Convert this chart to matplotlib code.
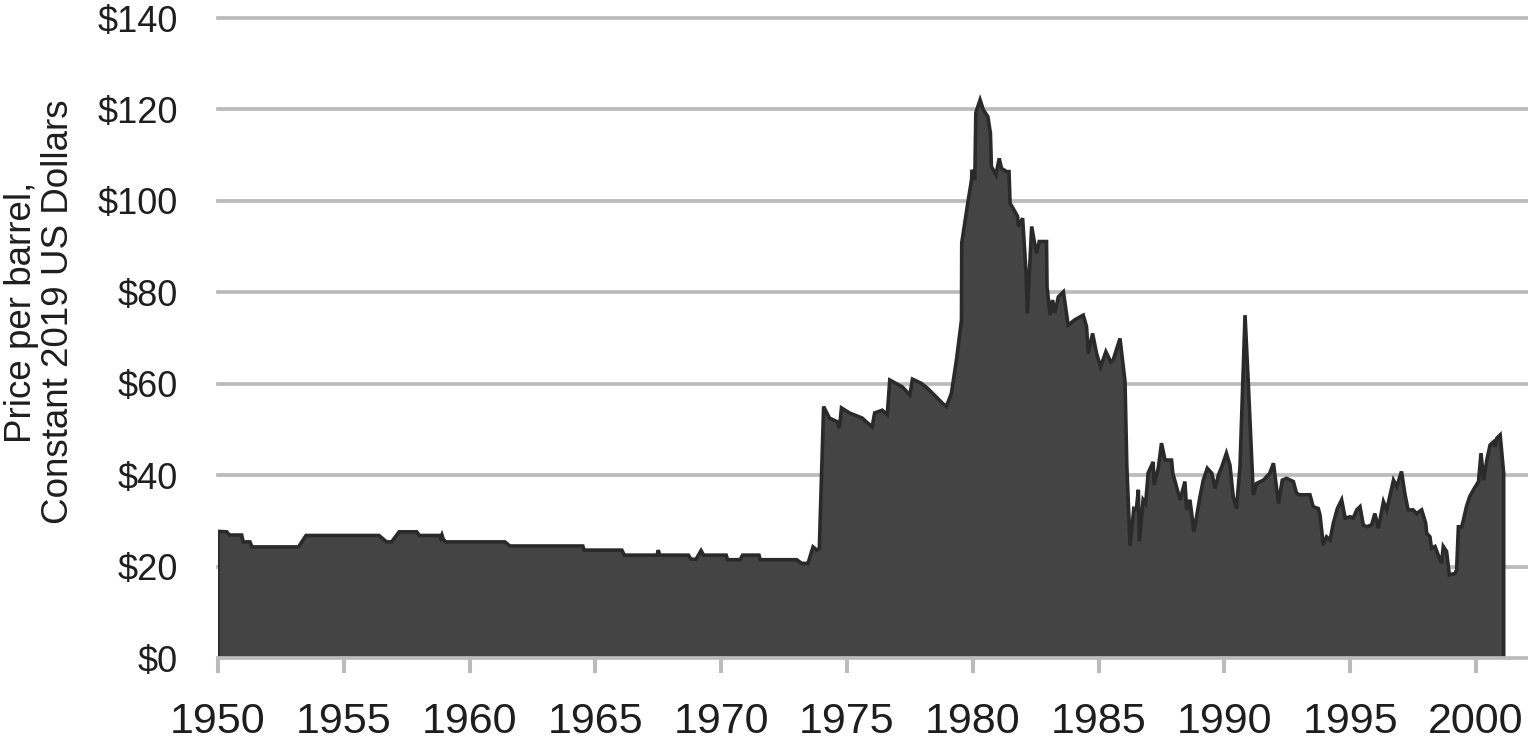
import matplotlib
matplotlib.use("Agg")
import matplotlib.pyplot as plt

plt.rcParams['font.family'] = ['Liberation Sans', 'DejaVu Sans']

years = [
    1950.00, 1950.35, 1950.45, 1950.94, 1951.00, 1951.27, 1951.35, 1953.20, 1953.50,
    1956.40, 1956.70, 1956.90, 1957.20, 1957.90, 1958.00, 1958.80, 1958.85, 1958.90,
    1958.95, 1959.05, 1961.40, 1961.60, 1964.50, 1964.55, 1966.05, 1966.15, 1967.45,
    1967.50, 1967.55, 1968.70, 1968.80, 1969.00, 1969.20, 1969.30, 1970.20, 1970.25,
    1970.75, 1970.85, 1971.50, 1971.55, 1973.00, 1973.20, 1973.45, 1973.65, 1973.80,
    1973.90, 1974.07, 1974.30, 1974.60, 1974.70, 1974.78, 1975.10, 1975.60, 1975.80,
    1976.00, 1976.10, 1976.40, 1976.60, 1976.70, 1977.00, 1977.20, 1977.50, 1977.60,
    1977.95, 1978.20, 1978.40, 1978.60, 1978.80, 1978.95, 1979.15, 1979.35, 1979.55,
    1979.56, 1979.80, 1979.95, 1979.97, 1980.08, 1980.12, 1980.29, 1980.42, 1980.60,
    1980.70, 1980.74, 1980.92, 1981.05, 1981.14, 1981.34, 1981.44, 1981.48, 1981.68,
    1981.78, 1981.81, 1981.98, 1982.11, 1982.17, 1982.34, 1982.53, 1982.64, 1982.93,
    1982.95, 1983.07, 1983.17, 1983.26, 1983.40, 1983.60, 1983.79, 1984.06, 1984.39,
    1984.52, 1984.59, 1984.76, 1984.92, 1985.08, 1985.29, 1985.48, 1985.58, 1985.85,
    1986.05, 1986.12, 1986.25, 1986.40, 1986.50, 1986.58, 1986.62, 1986.77, 1986.87,
    1986.97, 1987.17, 1987.20, 1987.37, 1987.50, 1987.64, 1987.90, 1987.95, 1988.24,
    1988.43, 1988.50, 1988.63, 1988.79, 1989.03, 1989.16, 1989.32, 1989.50, 1989.63,
    1989.76, 1989.90, 1990.08, 1990.22, 1990.35, 1990.48, 1990.62, 1990.82, 1990.95,
    1991.15, 1991.28, 1991.55, 1991.80, 1991.95, 1992.15, 1992.30, 1992.47, 1992.74,
    1992.87, 1993.00, 1993.40, 1993.53, 1993.73, 1993.80, 1993.93, 1994.06, 1994.20,
    1994.33, 1994.49, 1994.66, 1994.80, 1995.00, 1995.12, 1995.26, 1995.39, 1995.52,
    1995.65, 1995.85, 1995.98, 1996.12, 1996.32, 1996.45, 1996.72, 1996.85, 1997.04,
    1997.17, 1997.30, 1997.50, 1997.64, 1997.84, 1998.00, 1998.04, 1998.17, 1998.23,
    1998.37, 1998.50, 1998.63, 1998.70, 1998.83, 1998.94, 1999.17, 1999.23, 1999.30,
    1999.43, 1999.50, 1999.62, 1999.75, 1999.90, 2000.10, 2000.20, 2000.30, 2000.43,
    2000.56, 2000.70, 2000.76, 2000.83, 2000.96, 2001.10,
]
prices = [
    27.7, 27.6, 26.9, 26.9, 25.4, 25.4, 24.3, 24.3, 26.8,
    26.8, 25.4, 25.4, 27.6, 27.6, 26.8, 26.8, 26.2, 26.9,
    26.0, 25.4, 25.4, 24.5, 24.5, 23.6, 23.6, 22.5, 22.5,
    23.6, 22.5, 22.5, 21.6, 21.6, 23.5, 22.5, 22.5, 21.5,
    21.5, 22.5, 22.5, 21.5, 21.5, 20.7, 20.7, 24.3, 23.6,
    24.0, 55.0, 52.5, 51.7, 50.3, 54.7, 53.6, 52.5, 51.5,
    50.6, 53.6, 54.2, 53.2, 60.8, 59.9, 59.3, 57.5, 61.0,
    60.1, 59.0, 57.9, 56.8, 55.7, 55.0, 57.9, 65.2, 73.9,
    90.8, 99.5, 104.6, 106.8, 104.6, 119.3, 122.1, 119.9, 118.4,
    114.8, 107.5, 105.7, 109.3, 107.1, 106.4, 106.4, 99.5, 97.6,
    96.6, 94.4, 96.2, 84.9, 75.4, 94.4, 88.5, 91.1, 91.1,
    81.2, 75.0, 78.3, 75.5, 79.0, 80.1, 72.8, 74.0, 75.0,
    72.5, 66.6, 71.0, 66.6, 63.7, 67.0, 64.8, 65.2, 69.9,
    60.5, 42.3, 24.5, 32.7, 32.5, 36.8, 25.5, 34.6, 33.8,
    40.5, 42.9, 37.8, 41.5, 47.0, 43.3, 43.3, 40.4, 34.6,
    38.6, 32.4, 34.6, 27.6, 35.3, 38.9, 41.5, 40.4, 37.1,
    40.0, 41.9, 44.8, 42.2, 35.3, 32.7, 41.9, 75.0, 60.1,
    35.7, 38.2, 38.9, 40.4, 42.6, 33.8, 38.9, 39.3, 38.6,
    36.0, 35.7, 35.7, 33.1, 32.7, 31.3, 24.7, 26.5, 25.8,
    29.5, 32.7, 34.6, 30.6, 30.9, 30.6, 32.4, 33.1, 29.1,
    28.7, 29.1, 31.6, 28.4, 34.2, 32.4, 38.9, 37.5, 40.8,
    36.0, 32.4, 32.4, 31.6, 32.4, 29.5, 27.3, 26.5, 24.0,
    24.4, 22.5, 20.7, 24.4, 23.3, 18.2, 18.5, 19.3, 28.7,
    28.7, 30.2, 33.1, 35.3, 36.8, 38.6, 44.8, 38.9, 43.3,
    46.6, 47.3, 46.2, 48.1, 48.8, 40.4,
]
x_ticks = [1950, 1955, 1960, 1965, 1970, 1975, 1980, 1985, 1990, 1995, 2000]
y_ticks = [0, 20, 40, 60, 80, 100, 120, 140]
y_tick_labels = ['$' + str(v) for v in y_ticks]
y_label = "Price per barrel,\nConstant 2019 US Dollars"

W, H = 1528, 746
fig = plt.figure(figsize=(W / 100, H / 100), dpi=100)
ax = fig.add_axes([218 / W, 88 / H, (W - 218) / W, (658 - 18) / H])

grid_col = '#bbbbbb'
for v in y_ticks:
    ax.axhline(v, color=grid_col, linewidth=2.7, zorder=1 if v else 4, clip_on=False)

ax.fill_between(years, prices, 0, facecolor='#444444', edgecolor='none', zorder=2)
ax.plot([years[0]] + years + [years[-1]], [0] + prices + [0],
        color='#2a2a2a', linewidth=2.6, solid_joinstyle='miter', zorder=3)

ax.set_xlim(1950, 1950 + (W - 218) / 25.16)
ax.set_ylim(0, 140)
for s in ax.spines.values():
    s.set_visible(False)

ax.set_xticks(x_ticks)
ax.set_xticklabels([str(v) for v in x_ticks], fontsize=31, color='#1e1e1e')
ax.tick_params(axis='x', length=11, width=2.9, color=grid_col, direction='out', pad=21)
ax.set_yticks(y_ticks)
ax.set_yticklabels(y_tick_labels, fontsize=26, color='#1e1e1e')
ax.tick_params(axis='y', length=0, pad=29)

fig.text(40 / W, 1 - 312 / H, y_label, rotation=90, ha='center', va='center',
         multialignment='center', fontsize=26.5, color='#1e1e1e', linespacing=1.1)

fig.savefig('out.png', dpi=100)
